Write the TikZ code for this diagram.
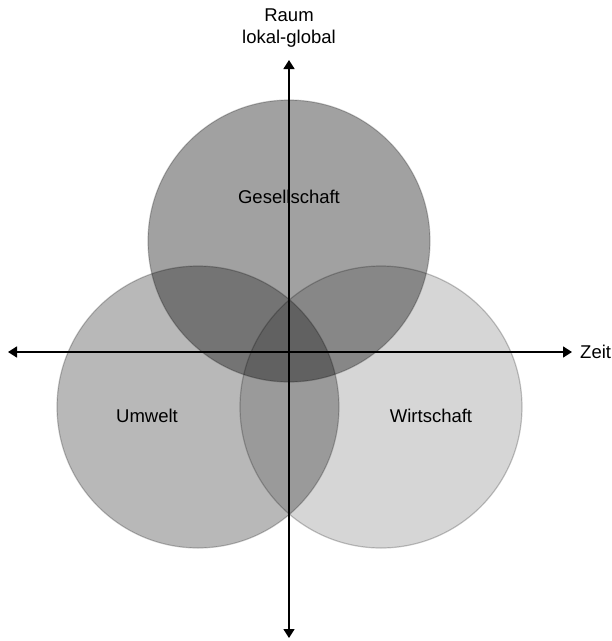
\documentclass[tikz,border=0pt]{standalone}
\usepackage{fontspec}
\setmainfont{Liberation Sans}
\usetikzlibrary{arrows.meta, positioning}

\begin{document}
\begin{tikzpicture}[
    x=1pt, y=-1pt,
    font=\fontsize{18.5}{22}\selectfont,
    circ/.style = {circle, minimum size=282pt, inner sep=0pt,
                    fill=#1,% fill color
                    draw=black!22, line width=1.2pt},
    axis/.style = {line width=1.6pt,
                    {Triangle[length=9pt,width=11pt]}-{Triangle[length=9pt,width=11pt]}},
    lbl/.style = {inner sep=1pt, align=center}]
%---
\useasboundingbox (0,0) rectangle (612,641);
% circles
\begin{scope}[blend mode=multiply]
\node (umw) [circ=black!28] at (198,407) {};
\node (wir) [circ=black!16] at (381,407) {};
\node (ges) [circ=black!37] at (289,241) {};
\end{scope}
% labels
\node (tges) [lbl] at (289,197) {Gesellschaft};
\node (tumw) [lbl] at (147,416) {Umwelt};
\node (twir) [lbl] at (431,416) {Wirtschaft};
% axes
\coordinate (west)  at (8,352);
\coordinate (east)  at (572,352);
\coordinate (north) at (289,60);
\coordinate (south) at (289,638);
\draw[axis] (west) -- (east);
\draw[axis] (south) -- (north);
\node (raum) [lbl, above=11pt of north] {Raum\\lokal-global};
\node (zeit) [lbl, right=7pt of east]   {Zeit};
\end{tikzpicture}
\end{document}
